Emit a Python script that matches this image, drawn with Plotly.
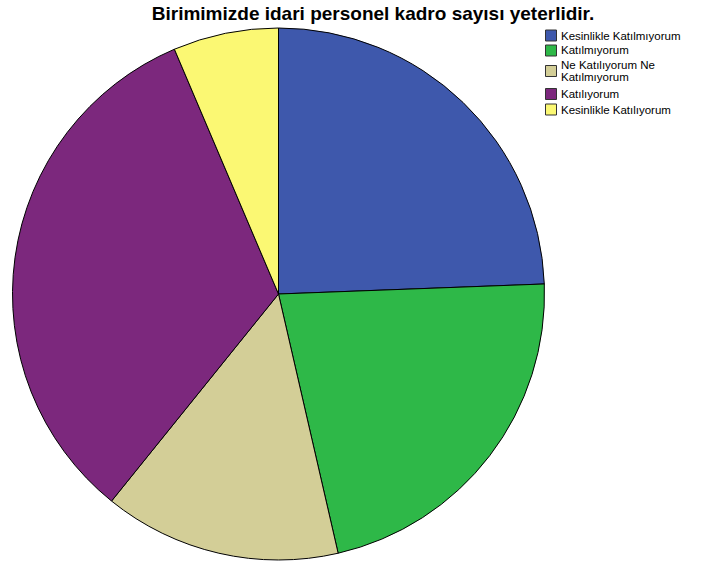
import plotly.graph_objects as go

title = "Birimimizde idari personel kadro sayısı yeterlidir."
labels = ["Kesinlikle Katılmıyorum", "Katılmıyorum", "Ne Katılıyorum Ne Katılmıyorum",
          "Katılıyorum", "Kesinlikle Katılıyorum"]
legend_lines = [["Kesinlikle Katılmıyorum"], ["Katılmıyorum"], ["Ne Katılıyorum Ne", "Katılmıyorum"],
                ["Katılıyorum"], ["Kesinlikle Katılıyorum"]]
values = [61, 55, 36, 82, 16]
colors = ["#3E58AC", "#2EB848", "#D3CE97", "#7C287D", "#FBF873"]

W, H = 704, 567


def px(x):
    return x / W


def py(y):
    return (H - y) / H


fig = go.Figure(go.Pie(
    labels=labels, values=values, sort=False, direction="clockwise", rotation=0,
    marker=dict(colors=colors, line=dict(color="black", width=1)),
    textinfo="none", hoverinfo="label+value+percent",
    domain=dict(x=[px(12), px(545)], y=[py(560), py(28)]),
))

# custom compact legend (SPSS style)
shapes, annos = [], []
row_centers = [35.5, 50.5, 71, 94, 109.5]
for i, (lines, c) in enumerate(zip(legend_lines, colors)):
    yc = row_centers[i]
    shapes.append(dict(type="rect", xref="paper", yref="paper",
                       x0=px(545.5), x1=px(556.5), y0=py(yc + 5.5), y1=py(yc - 5.5),
                       fillcolor=c, line=dict(color="#333333", width=1)))
    n = len(lines)
    for j, t in enumerate(lines):
        ty = yc + (j - (n - 1) / 2) * 11.5
        annos.append(dict(text=t, xref="paper", yref="paper", x=px(559), y=py(ty),
                          xanchor="left", yanchor="middle", showarrow=False,
                          font=dict(family="Liberation Sans, Arial", size=11.5, color="black")))

fig.update_layout(
    width=W, height=H, margin=dict(l=0, r=0, t=0, b=0),
    paper_bgcolor="white", plot_bgcolor="white", showlegend=False,
    title=dict(text="<b>" + title + "</b>", x=px(373), xanchor="center", y=py(13), yanchor="middle",
               font=dict(family="Liberation Sans, Arial", size=19, color="black")),
    shapes=shapes, annotations=annos,
)
fig.write_html("out.html", config={"displayModeBar": False},
               post_script="document.body.style.margin='0';")
